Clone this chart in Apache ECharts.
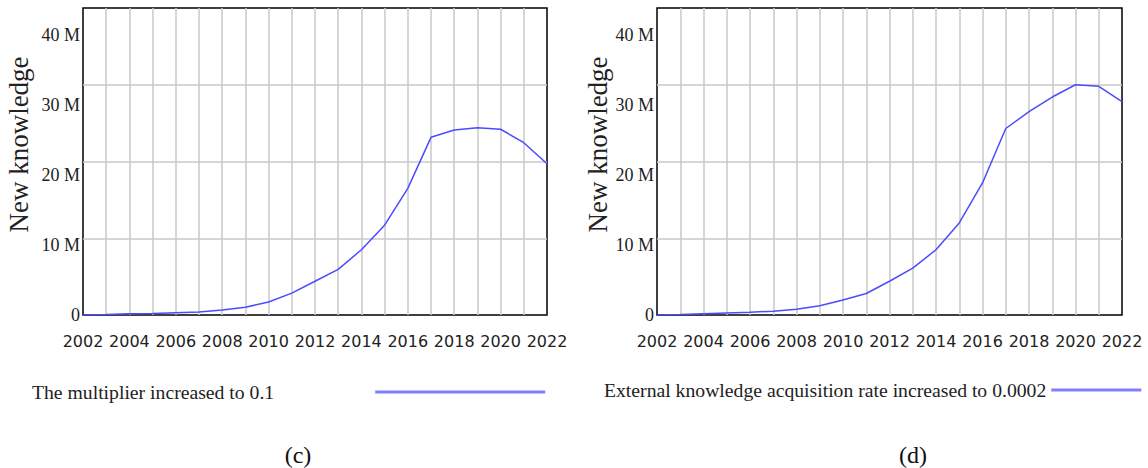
<!DOCTYPE html>
<html>
<head>
<meta charset="utf-8">
<script src="https://cdn.jsdelivr.net/npm/echarts@6/dist/echarts.min.js"></script>
<style>
  html, body { margin: 0; padding: 0; background: #fff; }
  #chart { width: 1148px; height: 468px; }
</style>
</head>
<body>
<div id="chart"></div>
<script>
// Years on the horizontal axis
const years = ['2002','2003','2004','2005','2006','2007','2008','2009','2010','2011','2012',
               '2013','2014','2015','2016','2017','2018','2019','2020','2021','2022'];

// New knowledge (units) for each scenario
const multiplierScenario = [0, 0.05e6, 0.15e6, 0.2e6, 0.3e6, 0.4e6, 0.65e6, 1.0e6, 1.7e6, 2.85e6, 4.4e6,
                            5.95e6, 8.5e6, 11.7e6, 16.5e6, 23.15e6, 24.1e6, 24.4e6, 24.2e6, 22.45e6, 19.7e6];
const acquisitionScenario = [0, 0.05e6, 0.15e6, 0.25e6, 0.35e6, 0.5e6, 0.74e6, 1.2e6, 1.95e6, 2.8e6, 4.4e6,
                             6.1e6, 8.5e6, 12.0e6, 17.2e6, 24.3e6, 26.5e6, 28.4e6, 30.0e6, 29.8e6, 27.8e6];

const seriesNames = ['The multiplier increased to 0.1',
                     'External knowledge acquisition rate increased to 0.0002'];
const panelLabels = ['(c)', '(d)'];
const yTicks = [0, 10e6, 20e6, 30e6, 40e6];

const chart = echarts.init(document.getElementById('chart'), null, { renderer: 'svg' });

const serif = '"Liberation Serif", "Times New Roman", serif';
const sans = '"DejaVu Sans", Verdana, sans-serif';
const lineBlue = '#4b4bff';

function tickLabel(v) {
  return v === 0 ? '0' : (v / 1e6) + ' M';
}

const grids = [
  { left: 83, right: 601, top: 8, bottom: 153 },
  { left: 657, right: 26, top: 8, bottom: 153 }
];
const nameGaps = [51, 44];
// space between each legend label and its line sample
const legendTextPad = [96, 0];

const xAxes = grids.map((g, i) => ({
  type: 'category',
  gridIndex: i,
  data: years,
  boundaryGap: false,
  axisLine: { show: false },
  axisTick: { show: false },
  axisLabel: {
    interval: 1,
    margin: 18,
    fontFamily: sans,
    fontSize: 16,
    color: '#222'
  },
  splitLine: {
    show: true,
    interval: 0,
    showMinLine: false,
    showMaxLine: false,
    lineStyle: { color: '#c8c8c8', width: 1.5 }
  }
}));

const yAxes = [];
grids.forEach((g, i) => {
  // value scale with the horizontal grid lines
  yAxes.push({
    type: 'value',
    gridIndex: i,
    min: yTicks[0],
    max: yTicks[yTicks.length - 1],
    interval: 10e6,
    axisLine: { show: false },
    axisTick: { show: false },
    axisLabel: { show: false },
    splitLine: {
      show: true,
      showMinLine: false,
      showMaxLine: false,
      lineStyle: { color: '#c8c8c8', width: 1.5 }
    }
  });
  // tick-label scale and axis title
  yAxes.push({
    type: 'value',
    gridIndex: i,
    position: 'left',
    min: 0,
    max: 43.857e6,
    interval: 10e6,
    axisLine: { show: false },
    axisTick: { show: false },
    splitLine: { show: false },
    axisLabel: {
      margin: 3,
      showMaxLabel: false,
      fontFamily: serif,
      fontSize: 18,
      color: '#222',
      formatter: tickLabel
    },
    name: 'New knowledge',
    nameLocation: 'middle',
    nameRotate: 90,
    nameGap: nameGaps[i],
    nameTextStyle: {
      fontFamily: serif,
      fontSize: 27,
      color: '#222',
      padding: [0, 0, 0, 34]
    }
  });
});

function legendFor(i, left, top, lineWidth, gap) {
  return {
    data: [seriesNames[i]],
    left: left,
    top: top,
    padding: 0,
    align: 'right',
    icon: 'rect',
    itemWidth: lineWidth,
    itemHeight: 3,
    itemStyle: { color: '#8080ff' },
    selectedMode: false,
    formatter: '{t|{name}}',
    textStyle: {
      fontFamily: serif, fontSize: 19.7, color: '#222',
      rich: { t: { fontFamily: serif, fontSize: 19.7, color: '#222', padding: [0, legendTextPad[i], 0, 0] } }
    }
  };
}

const option = {
  backgroundColor: '#fff',
  animation: false,
  grid: grids.map(g => Object.assign({ show: true, borderColor: '#000', borderWidth: 1.5, backgroundColor: 'transparent' }, g)),
  xAxis: xAxes,
  yAxis: yAxes,
  legend: [
    legendFor(0, 32, 382, 170),
    legendFor(1, 604, 380, 90)
  ],
  title: [
    { text: panelLabels[0], left: 293, top: 438, textAlign: 'center',
      textStyle: { fontFamily: serif, fontSize: 24, fontWeight: 'normal', color: '#111' } },
    { text: panelLabels[1], left: 908, top: 438, textAlign: 'center',
      textStyle: { fontFamily: serif, fontSize: 24, fontWeight: 'normal', color: '#111' } }
  ],
  series: [
    {
      name: seriesNames[0],
      type: 'line',
      xAxisIndex: 0,
      yAxisIndex: 0,
      data: multiplierScenario,
      showSymbol: false,
      symbol: 'none',
      lineStyle: { color: lineBlue, width: 1.5 },
      itemStyle: { color: lineBlue }
    },
    {
      name: seriesNames[1],
      type: 'line',
      xAxisIndex: 1,
      yAxisIndex: 2,
      data: acquisitionScenario,
      showSymbol: false,
      symbol: 'none',
      lineStyle: { color: lineBlue, width: 1.5 },
      itemStyle: { color: lineBlue }
    }
  ]
};

chart.setOption(option);
</script>
</body>
</html>
